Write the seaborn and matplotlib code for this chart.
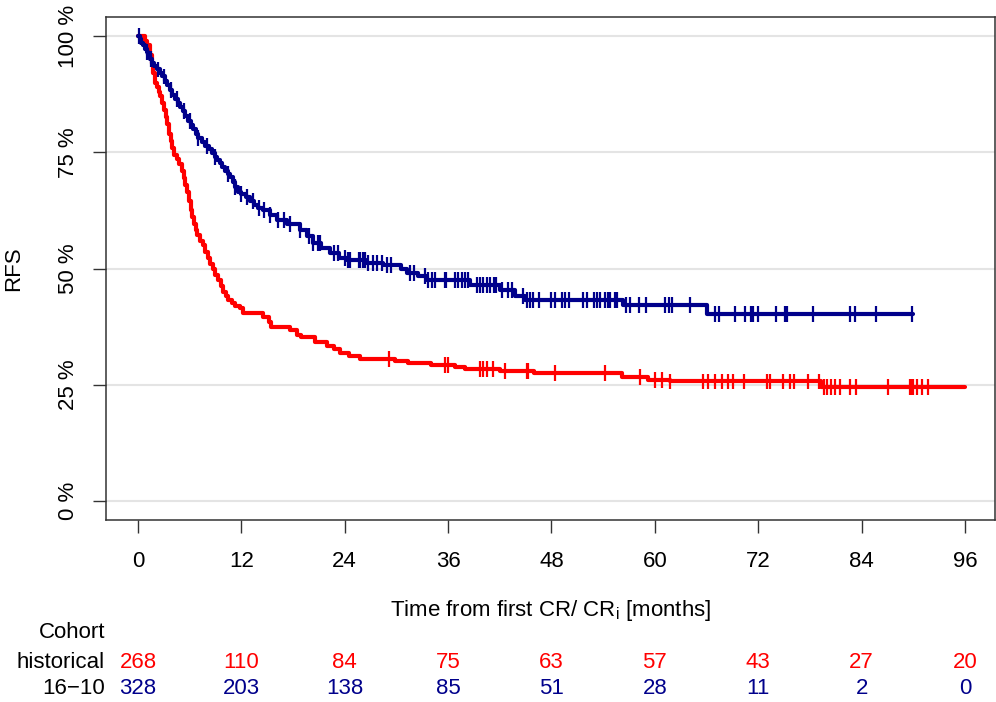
import numpy as np
import pandas as pd
import matplotlib
matplotlib.use("Agg")
import matplotlib.pyplot as plt
import matplotlib.transforms as mtransforms
import seaborn as sns

# Kaplan-Meier steps (months, RFS in %)
hist_time = [0, 0.8, 1.1, 1.4, 1.6, 1.8, 2.0, 2.2, 2.4, 2.6, 2.8, 3.0, 3.2, 3.4, 3.6, 3.8, 4.0,
             4.2, 4.5, 4.8, 5.1, 5.3, 5.5, 5.7, 5.9, 6.1, 6.3, 6.5, 6.7, 6.9, 7.2, 7.5,
             7.8, 8.1, 8.4, 8.7, 9.0, 9.3, 9.6, 9.9, 10.2, 10.5, 10.9, 11.3, 11.8, 12.2,
             14.5, 15.2, 15.5, 17.6, 18.5, 18.9, 20.5, 22.0, 22.8, 23.5, 24.5, 25.8, 29.8,
             31.3, 34.0, 36.8, 38.0, 42.0, 46.0, 56.2, 59.2, 61.8, 79.3, 96.0]
hist_rfs = [100, 99, 98, 96, 94, 92, 90, 89, 88, 87, 85.5, 84, 82.5, 81, 79, 77.5, 76,
            74.5, 73.5, 72.5, 71, 69.5, 68, 66.5, 64.5, 62.5, 61, 59.5, 58.3, 57.3, 56, 55,
            53.5, 52.3, 51, 49.8, 48.6, 47.5, 46.3, 45, 44, 43.3, 42.5, 42, 41.4, 40.5,
            39.6, 38.5, 37.4, 36.8, 35.8, 35.2, 34.2, 33.4, 32.6, 31.8, 31.2, 30.5, 30.0,
            29.7, 29.3, 28.8, 28.3, 27.9, 27.6, 26.7, 26.1, 25.7, 24.5, 24.5]

new_time = [0, 0.2, 0.4, 0.6, 0.8, 1.0, 1.2, 1.4, 1.6, 1.9, 2.2, 2.5, 2.8, 3.1, 3.4, 3.7,
            4.0, 4.3, 4.6, 4.9, 5.2, 5.5, 5.8, 6.1, 6.4, 6.7, 7.0, 7.4, 7.8, 8.2, 8.6,
            8.9, 9.2, 9.5, 9.8, 10.1, 10.4, 10.7, 11.0, 11.3, 11.6, 12.0, 12.5, 13.0, 13.5,
            13.9, 14.5, 15.3, 16.1, 17.3, 18.8, 19.6, 20.3, 21.3, 22.3, 23.3, 24.3, 26.5,
            28.4, 30.5, 31.2, 32.5, 33.5, 38.5, 42.0, 43.8, 44.9, 56.3, 66.0, 90.0]
new_rfs = [100, 99.3, 98.6, 98, 97.3, 96.6, 95.9, 95, 94.3, 93.5, 92.8, 92, 91.3, 90.3,
           89.4, 88.4, 87.4, 86.5, 85.6, 84.7, 83.8, 82.8, 81.8, 80.9, 80, 79, 78.1, 77.1,
           76.3, 75.6, 74.8, 74, 73.3, 72.6, 71.8, 71, 70.3, 69.6, 68.6, 67.5, 66.5, 66,
           65.3, 64.6, 63.7, 63, 62.5, 61.5, 60.5, 59.5, 58.3, 57, 55.5, 54.5, 53.3, 52.3,
           51.8, 51.2, 50.8, 49.8, 49, 48.3, 47.5, 46.5, 45.4, 44.0, 43.2, 42.2, 40.2, 40.2]

# censoring times (months)
hist_censor = [29.1, 35.6, 36.0, 39.7, 40.0, 40.5, 41.2, 42.6, 45.1, 45.3, 48.4, 54.2, 58.3,
               60.0, 60.8, 61.8, 65.6, 66.2, 67.0, 67.8, 68.5, 69.1, 70.3, 73.0, 73.4,
               74.9, 75.7, 76.1, 77.8, 79.0, 79.6, 80.0, 80.4, 80.9, 81.5, 82.6, 83.4,
               87.1, 89.6, 89.8, 90.0, 90.4, 91.0, 91.7]
new_censor = [0.1, 1.0, 1.5, 2.3, 3.0, 3.8, 4.5, 5.3, 6.0, 7.0, 8.0, 9.0, 10.5, 11.3, 12.0,
              12.7, 13.3, 14.0, 14.6, 15.3, 16.3, 16.9, 17.6, 18.8, 19.8, 20.3, 20.9, 21.1,
              22.7, 23.2, 24.0, 24.4, 24.6, 25.6, 25.8, 26.1, 26.4, 26.7, 27.3, 27.7, 28.3,
              28.9, 29.4, 31.6, 32.0, 33.3, 33.7, 34.1, 34.5, 35.6, 35.8, 36.8, 37.2, 37.6,
              38.0, 38.3, 39.3, 39.7, 40.1, 40.5, 40.9, 41.3, 41.6, 42.2, 43.0, 43.4, 44.7,
              45.1, 45.5, 45.9, 46.5, 48.0, 48.4, 49.2, 49.6, 50.0, 51.7, 52.1, 52.9, 53.3,
              53.6, 54.2, 54.6, 54.8, 55.4, 55.6, 56.7, 57.1, 58.1, 59.0, 61.2, 61.6, 62.0,
              64.1, 67.0, 67.4, 69.3, 70.5, 71.2, 71.4, 72.0, 74.1, 75.1, 75.3, 78.4, 82.6,
              83.2, 85.7, 89.8]

# numbers at risk
risk_times = [0, 12, 24, 36, 48, 60, 72, 84, 96]
hist_risk = [268, 110, 84, 75, 63, 57, 43, 27, 20]
new_risk = [328, 203, 138, 85, 51, 28, 11, 2, 0]

cohorts = ["historical", "16\u221210"]
palette = {"historical": "#FF0000", "16\u221210": "#00008B"}

sns.set_style("white")
plt.rcParams["font.family"] = ["Liberation Sans", "DejaVu Sans"]
plt.rcParams["mathtext.fontset"] = "custom"
plt.rcParams["mathtext.rm"] = "Liberation Sans"
plt.rcParams["mathtext.it"] = "Liberation Sans:italic"
for key in ["text.color", "axes.labelcolor", "xtick.color", "ytick.color"]:
    plt.rcParams[key] = "black"
fs = 16

curves = pd.concat([
    pd.DataFrame({"time": hist_time, "rfs": hist_rfs, "cohort": cohorts[0]}),
    pd.DataFrame({"time": new_time, "rfs": new_rfs, "cohort": cohorts[1]}),
])


def censor_frame(times, rfs, cens, name):
    idx = np.searchsorted(times, cens, side="right") - 1
    return pd.DataFrame({"time": cens, "rfs": np.array(rfs)[idx], "cohort": name})


cens = pd.concat([
    censor_frame(hist_time, hist_rfs, hist_censor, cohorts[0]),
    censor_frame(new_time, new_rfs, new_censor, cohorts[1]),
])

fig = plt.figure(figsize=(9.96, 7.02), dpi=100)
ax = fig.add_axes([106 / 996, 1 - 520 / 702, 889 / 996, 503 / 702])

ax.yaxis.grid(True, color="#E4E4E4", lw=1.5)
ax.set_axisbelow(True)

sns.lineplot(data=curves, x="time", y="rfs", hue="cohort", palette=palette,
             drawstyle="steps-post", estimator=None, sort=False, lw=3.0,
             legend=False, ax=ax)
sns.scatterplot(data=cens, x="time", y="rfs", hue="cohort", palette=palette,
                marker="|", s=130, linewidth=1.6, legend=False, ax=ax, zorder=3)

ax.set_xlim(-3.71, 99.48)
ax.set_ylim(-4.09, 104.09)
ax.set_xticks(risk_times)
ax.set_xticklabels([str(t) for t in risk_times], fontsize=fs)
ax.set_yticks([0, 25, 50, 75, 100])
ax.set_yticklabels([f"{v} %" for v in [0, 25, 50, 75, 100]], fontsize=fs,
                   rotation=90, va="center")
ax.tick_params(axis="both", direction="out", length=9.4, width=1.0,
               color="#333333", left=True, bottom=True)
ax.tick_params(axis="x", pad=13)
ax.tick_params(axis="y", pad=10)
for sp in ax.spines.values():
    sp.set_color("#333333")
    sp.set_linewidth(1.1)

ax.set_xlabel(r"Time from first CR/ CR$_\mathrm{i}$ [months]", fontsize=fs)
ax.xaxis.set_label_coords(0.5, -0.155)
ax.set_ylabel("RFS", fontsize=fs)
ax.yaxis.set_label_coords(-0.092, 0.5)

# risk table below the axis
trans = mtransforms.blended_transform_factory(ax.transData, fig.transFigure)
fig.text(105 / 996, 1 - 633 / 702, "Cohort", fontsize=fs, ha="right", va="center")
rows = [(cohorts[0], hist_risk, 1 - 662 / 702), (cohorts[1], new_risk, 1 - 688 / 702)]
for name, counts, yy in rows:
    fig.text(105 / 996, yy, name, fontsize=fs, ha="right", va="center")
    for t, n in zip(risk_times, counts):
        ax.text(t, yy, str(n), transform=trans, fontsize=fs, ha="center",
                va="center", color=palette[name], clip_on=False)

fig.savefig("out.png", dpi=100)
